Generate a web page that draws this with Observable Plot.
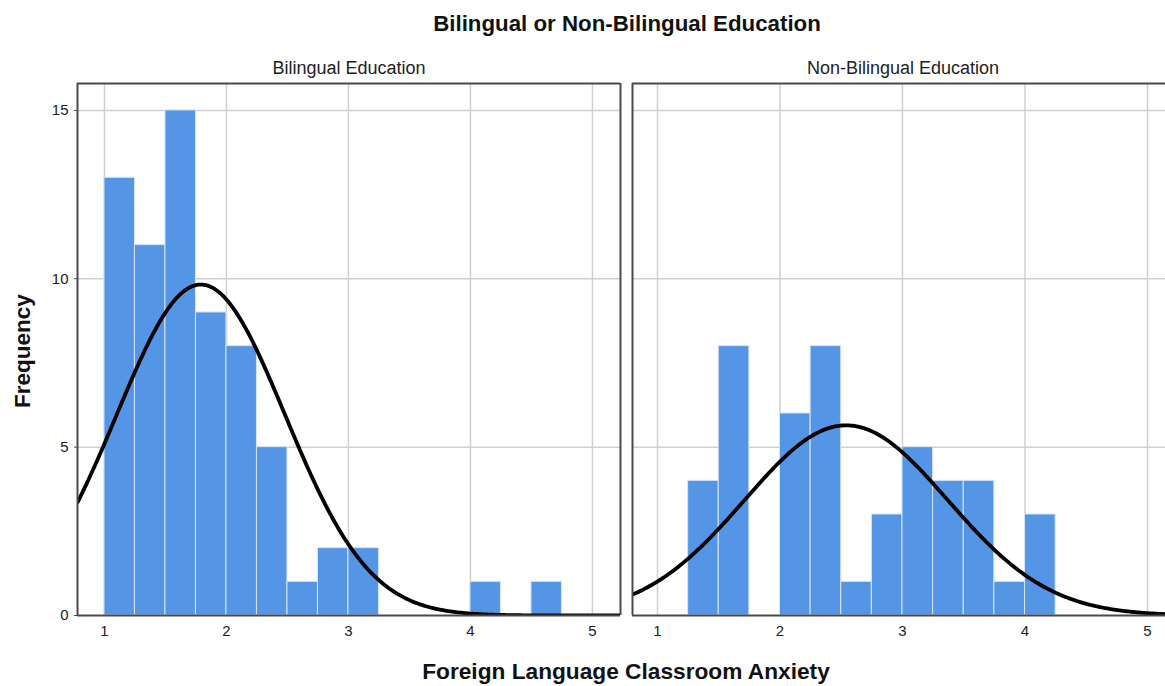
<!DOCTYPE html>
<html>
<head>
<meta charset="utf-8">
<script src="https://cdn.jsdelivr.net/npm/d3@7"></script>
<script src="https://cdn.jsdelivr.net/npm/@observablehq/plot@0.6"></script>
<style>
  html, body { margin: 0; padding: 0; background: #fff; }
  #wrap { position: relative; width: 1165px; height: 686px; overflow: hidden; font-family: "Liberation Sans", Arial, sans-serif; }
  .abs { position: absolute; white-space: nowrap; line-height: 1; }
  .title { font-weight: bold; font-size: 22.3px; color: #111; transform: translate(-50%, -50%); }
  .xlab { font-weight: bold; font-size: 22.7px; color: #111; transform: translate(-50%, -50%); }
  .facet { font-size: 18px; color: #222; transform: translate(-50%, -50%); }
  .ylab { font-weight: bold; font-size: 22.5px; color: #111; transform: translate(-50%, -50%) rotate(-90deg); }
</style>
</head>
<body>
<div id="wrap"></div>
<script>
// ---- data ----
const chartTitle = "Bilingual or Non-Bilingual Education";
const xTitle = "Foreign Language Classroom Anxiety";
const yTitle = "Frequency";
const panelNames = ["Bilingual Education", "Non-Bilingual Education"];
const binWidth = 0.25;

const bilingualBinStart = [1.00, 1.25, 1.50, 1.75, 2.00, 2.25, 2.50, 2.75, 3.00, 4.00, 4.50];
const bilingualCount    = [13,   11,   15,   9,    8,    5,    1,    2,    2,    1,    1];

const nonBilingualBinStart = [1.25, 1.50, 2.00, 2.25, 2.50, 2.75, 3.00, 3.25, 3.50, 3.75, 4.00];
const nonBilingualCount    = [4,    8,    6,    8,    1,    3,    5,    4,    4,    1,    3];

// fitted normal curve parameters (mean, sd) per panel
const bilingualNormal = {mean: 1.79, sd: 0.69};
const nonBilingualNormal = {mean: 2.54, sd: 0.83};

const xTicks = [1, 2, 3, 4, 5];
const yTicks = [0, 5, 10, 15];

// ---- build ----
const wrap = document.getElementById("wrap");
const barColor = "#5595e5";
const frameColor = "#4a4a4a";
const gridColor = "#cfcfcf";

function bins(starts, counts) {
  return starts.map((s, i) => ({x1: s, x2: s + binWidth, y: counts[i]}));
}
function normalCurve(p, n, lo, hi) {
  const pts = [];
  const steps = 300;
  for (let i = 0; i <= steps; i++) {
    const x = lo + (hi - lo) * i / steps;
    const z = (x - p.mean) / p.sd;
    pts.push({x, y: n * binWidth * Math.exp(-0.5 * z * z) / (p.sd * Math.sqrt(2 * Math.PI))});
  }
  return pts;
}

function panel({data, normal, xDomain, width, marginLeft, marginRight, showY, rightBorder}) {
  const n = d3.sum(data, d => d.y);
  const marks = [
    Plot.gridX(xTicks, {stroke: gridColor, strokeOpacity: 1, strokeWidth: 1.5}),
    Plot.gridY(yTicks.filter(d => d > 0), {stroke: gridColor, strokeOpacity: 1, strokeWidth: 1.5}),
    Plot.rectY(data, {x1: "x1", x2: "x2", y: "y", fill: barColor, stroke: "#d6e6fa", strokeWidth: 1}),
    Plot.line(normalCurve(normal, n, xDomain[0], xDomain[1]), {x: "x", y: "y", stroke: "#000", strokeWidth: 3.8, clip: true}),
    Plot.axisX(xTicks, {tickSize: 0, tickPadding: 10, fontSize: 15, fill: "#222", label: null, tickFormat: d3.format("d")}),
    Plot.ruleY([0], {stroke: frameColor, strokeWidth: 2}),
    Plot.ruleY([15.8], {stroke: frameColor, strokeWidth: 2}),
    Plot.ruleX([xDomain[0]], {stroke: frameColor, strokeWidth: 2}),
  ];
  if (rightBorder) marks.push(Plot.ruleX([xDomain[1]], {stroke: frameColor, strokeWidth: 2}));
  if (showY) marks.push(Plot.axisY(yTicks, {tickSize: 3, tickPadding: 6, fontSize: 15, fill: "#222", stroke: frameColor, label: null, tickFormat: d3.format("d")}));
  return Plot.plot({
    width, height: 686,
    marginTop: 83, marginBottom: 71, marginLeft, marginRight,
    x: {domain: xDomain, axis: null},
    y: {domain: [0, 15.8], axis: null},
    style: {fontFamily: "Liberation Sans, Arial, sans-serif", background: "transparent", overflow: "visible"},
    marks
  });
}

const left = panel({
  data: bins(bilingualBinStart, bilingualCount), normal: bilingualNormal,
  xDomain: [0.779, 5.230], width: 621, marginLeft: 77, marginRight: 1, showY: true, rightBorder: true
});
left.style.position = "absolute"; left.style.left = "0px"; left.style.top = "0px";
wrap.appendChild(left);

const right = panel({
  data: bins(nonBilingualBinStart, nonBilingualCount), normal: nonBilingualNormal,
  xDomain: [0.796, 5.147], width: 545, marginLeft: 12, marginRight: 0, showY: false, rightBorder: false
});
right.style.position = "absolute"; right.style.left = "620px"; right.style.top = "0px";
wrap.appendChild(right);

function label(text, cls, x, y) {
  const d = document.createElement("div");
  d.className = "abs " + cls;
  d.textContent = text;
  d.style.left = x + "px"; d.style.top = y + "px";
  wrap.appendChild(d);
}
label(chartTitle, "title", 627, 24);
label(panelNames[0], "facet", 349, 68);
label(panelNames[1], "facet", 903, 68);
label(yTitle, "ylab", 23, 351);
label(xTitle, "xlab", 626, 671);
</script>
</body>
</html>
